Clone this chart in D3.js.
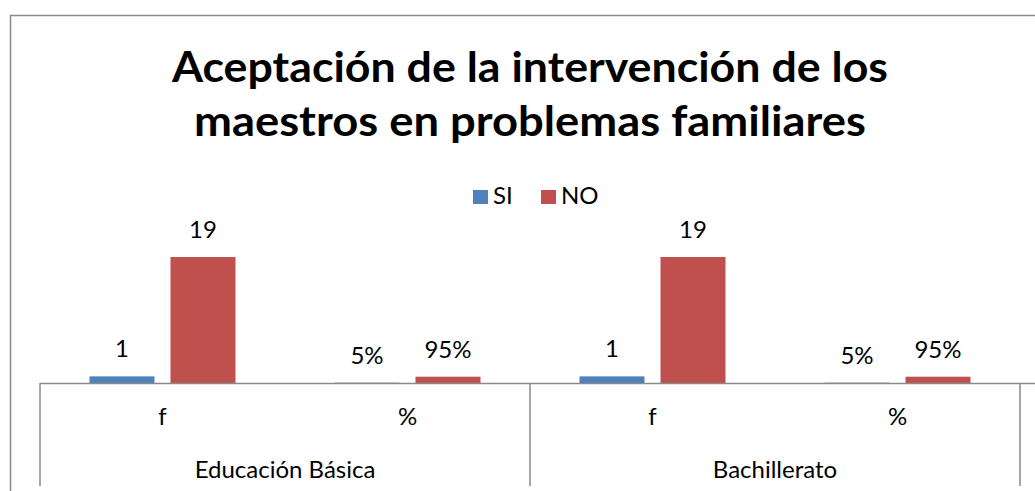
<!DOCTYPE html>
<html>
<head>
<meta charset="utf-8">
<script src="https://cdn.jsdelivr.net/npm/d3@7"></script>
<style>
  html, body { margin: 0; padding: 0; background: #fff; }
  svg { display: block; font-family: Lato, "Open Sans", sans-serif; }
</style>
</head>
<body>
<svg id="chart" width="1035" height="491"></svg>
<script>
// Chart data
const titleLines = ["Aceptación de la intervención de los", "maestros en problemas familiares"];
const groups = ["Educación Básica", "Bachillerato"];
const subCategories = ["f", "%"];
const series = ["SI", "NO"];
// values per group, per sub-category: [SI, NO]
const valuesBasica = [[1, 19], [0.05, 0.95]];
const valuesBachillerato = [[1, 19], [0.05, 0.95]];
const seriesColors = ["#4F81BD", "#C0504D"];

const svg = d3.select("#chart");
const W = 1035, H = 491;
const labelSize = 24;

const rows = [];
[valuesBasica, valuesBachillerato].forEach((gv, gi) => {
  subCategories.forEach((sc, si) => {
    series.forEach((s, k) => {
      rows.push({ group: groups[gi], sub: sc, series: s, value: gv[si][k] });
    });
  });
});

// outer frame
svg.append("rect")
  .attr("x", 10.5).attr("y", 15.5)
  .attr("width", 1060).attr("height", 520)
  .attr("fill", "#fff").attr("stroke", "#8a8a8a").attr("stroke-width", 1.5);

// title
svg.append("g").selectAll("text").data(titleLines).join("text")
  .attr("x", 530).attr("y", (d, i) => 82 + i * 54)
  .attr("text-anchor", "middle")
  .attr("font-weight", "bold")
  .attr("font-size", 42)
  .attr("textLength", (d, i) => i === 0 ? 716 : 672)
  .attr("lengthAdjust", "spacingAndGlyphs")
  .attr("fill", "#000")
  .text(d => d);

// scales
const baseY = 383;
const y = d3.scaleLinear().domain([0, 20]).range([baseY, baseY - 132.6]);
const xGroup = d3.scaleBand().domain(groups).range([40, 1020]);
const xSub = d3.scaleBand().domain(subCategories).range([0, xGroup.bandwidth()]);
const xSeries = d3.scaleBand().domain(series).range([0, xSub.bandwidth()])
  .paddingInner(16 / 81).paddingOuter(0.611);
const color = d3.scaleOrdinal().domain(series).range(seriesColors);

const xPos = d => xGroup(d.group) + xSub(d.sub) + xSeries(d.series);

// bars
svg.append("g").selectAll("rect").data(rows).join("rect")
  .attr("x", xPos)
  .attr("y", d => y(d.value))
  .attr("width", xSeries.bandwidth())
  .attr("height", d => baseY - y(d.value))
  .attr("fill", d => color(d.series));

// data labels
const fmt = d => d.sub === "%" ? d3.format(".0%")(d.value) : d3.format("d")(d.value);
svg.append("g").selectAll("text").data(rows).join("text")
  .attr("x", d => xPos(d) + xSeries.bandwidth() / 2)
  .attr("y", d => y(d.value) - 19)
  .attr("text-anchor", "middle")
  .attr("font-size", labelSize)
  .attr("fill", "#000")
  .text(fmt);

// category axis
const axisColor = "#8a8a8a";
svg.append("line")
  .attr("x1", 40).attr("x2", W)
  .attr("y1", baseY + 0.5).attr("y2", baseY + 0.5)
  .attr("stroke", axisColor).attr("stroke-width", 1.5);

const dividers = groups.map(g => xGroup(g)).concat([xGroup.range()[1]]);
svg.append("g").selectAll("line").data(dividers).join("line")
  .attr("x1", d => d).attr("x2", d => d)
  .attr("y1", baseY).attr("y2", 486)
  .attr("stroke", axisColor).attr("stroke-width", 1.5);

const subLabels = [];
groups.forEach(g => subCategories.forEach(s => subLabels.push({ g, s })));
svg.append("g").selectAll("text").data(subLabels).join("text")
  .attr("x", d => xGroup(d.g) + xSub(d.s) + xSub.bandwidth() / 2)
  .attr("y", 425)
  .attr("text-anchor", "middle")
  .attr("font-size", labelSize)
  .attr("fill", "#000")
  .text(d => d.s);

svg.append("g").selectAll("text").data(groups).join("text")
  .attr("x", d => xGroup(d) + xGroup.bandwidth() / 2)
  .attr("y", 478)
  .attr("text-anchor", "middle")
  .attr("font-size", labelSize)
  .attr("fill", "#000")
  .text(d => d);

// legend
const legend = svg.append("g").selectAll("g").data(series).join("g")
  .attr("transform", (d, i) => `translate(${473 + i * 68},190)`);
legend.append("rect")
  .attr("width", 15).attr("height", 14)
  .attr("fill", d => color(d));
legend.append("text")
  .attr("x", 20).attr("y", 14)
  .attr("font-size", labelSize)
  .attr("fill", "#000")
  .text(d => d);
</script>
</body>
</html>
